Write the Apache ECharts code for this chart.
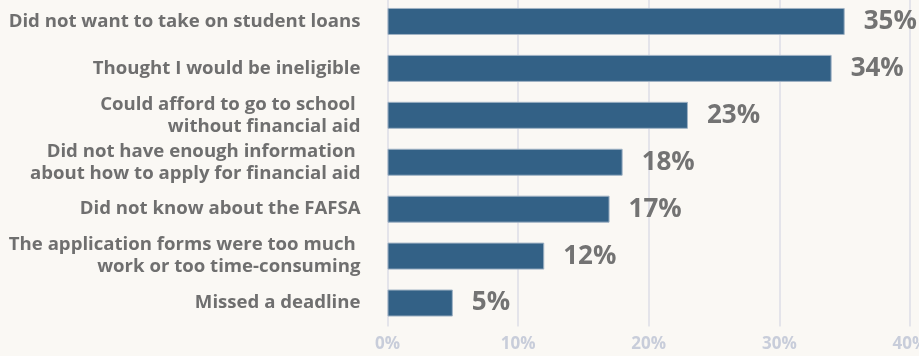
<!DOCTYPE html>
<html>
<head>
<meta charset="utf-8">
<script src="https://cdn.jsdelivr.net/npm/echarts@6/dist/echarts.min.js"></script>
<style>
  html, body { margin: 0; padding: 0; background: #faf8f4; }
  #chart { width: 919px; height: 356px; }
</style>
</head>
<body>
<div id="chart"></div>
<script>
// Reasons for not applying for financial aid (share of respondents)
const categories = [
  "Did not want to take on student loans",
  "Thought I would be ineligible",
  "Could afford to go to school \nwithout financial aid",
  "Did not have enough information \nabout how to apply for financial aid",
  "Did not know about the FAFSA",
  "The application forms were too much \nwork or too time-consuming",
  "Missed a deadline"
];
const values = [35, 34, 23, 18, 17, 12, 5];
const tickValues = [0, 10, 20, 30, 40];

const fontFamily = '"Open Sans", "Noto Sans", sans-serif';

const chart = echarts.init(document.getElementById('chart'), null, { renderer: 'canvas' });
chart.setOption({
  backgroundColor: '#faf8f4',
  animation: false,
  grid: {
    left: 387.5, right: 9, top: -2, bottom: 29.5,
    containLabel: false,
    outerBoundsMode: 'none'
  },
  xAxis: {
    type: 'value',
    min: tickValues[0],
    max: tickValues[tickValues.length - 1],
    interval: 10,
    axisLine: { show: false },
    axisTick: { show: false },
    splitLine: { show: true, lineStyle: { color: '#dcdee7', width: 1.5 } },
    axisLabel: {
      formatter: v => v + '%',
      color: '#c8cdda',
      fontFamily: fontFamily,
      fontWeight: 'bold',
      fontSize: 17,
      margin: 9
    }
  },
  yAxis: {
    type: 'category',
    inverse: true,
    data: categories,
    axisLine: { show: false },
    axisTick: { show: false },
    axisLabel: {
      color: '#6f6f6f',
      fontFamily: fontFamily,
      fontWeight: 'bold',
      fontSize: 18.6,
      lineHeight: 22,
      align: 'right',
      margin: 27
    }
  },
  series: [{
    type: 'bar',
    data: values,
    barWidth: 27,
    itemStyle: {
      color: '#336186',
      borderColor: '#9fb2c4',
      borderWidth: 1
    },
    label: {
      show: true,
      position: 'right',
      distance: 19,
      formatter: p => p.value + '%',
      color: '#737373',
      fontFamily: fontFamily,
      fontWeight: 'bold',
      fontSize: 26
    }
  }]
});
</script>
</body>
</html>
